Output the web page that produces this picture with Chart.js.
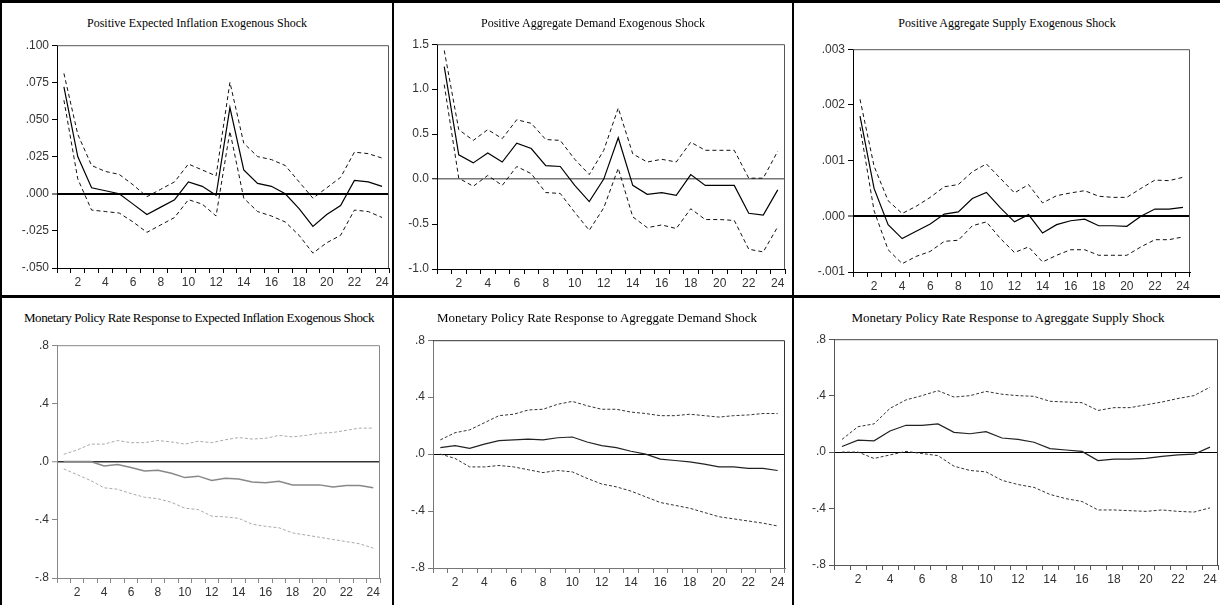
<!DOCTYPE html>
<html>
<head>
<meta charset="utf-8">
<title>Impulse responses</title>
<script src="https://cdn.jsdelivr.net/npm/chart.js@4"></script>
<style>
body { margin: 0; background: #fff; }
#page { position: relative; width: 1220px; height: 605px; overflow: hidden; background: #fff; }
.rule { position: absolute; background: #000; }
.ttl { position: absolute; font-family: "Liberation Serif", "Times New Roman", serif; font-size: 12px; line-height: 14px; color: #000; white-space: nowrap; transform: translateX(-50%); }
canvas { position: absolute; }
</style>
</head>
<body>
<div id="page">
    <div class="rule" style="left:0;top:0;width:1220px;height:3px"></div>
    <div class="rule" style="left:0;top:295px;width:1220px;height:3px"></div>
    <div class="rule" style="left:0;top:0;width:2px;height:605px"></div>
    <div class="rule" style="left:392px;top:0;width:2px;height:605px"></div>
    <div class="rule" style="left:792px;top:0;width:2px;height:605px"></div>
</div>

<script>
// periods after the shock
var periods = ["1","2","3","4","5","6","7","8","9","10","11","12","13","14","15","16","17","18","19","20","21","22","23","24"];

// expected inflation shock
var infResp  = [0.072, 0.025, 0.004, 0.002, 0.000, -0.007, -0.014, -0.009, -0.004, 0.008, 0.005, -0.001, 0.058, 0.016, 0.007, 0.005, 0.000, -0.010, -0.022, -0.014, -0.008, 0.009, 0.008, 0.005];
var infUpper = [0.081, 0.040, 0.019, 0.015, 0.013, 0.006, -0.002, 0.003, 0.008, 0.020, 0.016, 0.012, 0.075, 0.034, 0.025, 0.023, 0.019, 0.008, -0.003, 0.004, 0.011, 0.028, 0.027, 0.024];
var infLower = [0.063, 0.010, -0.011, -0.012, -0.013, -0.019, -0.026, -0.021, -0.016, -0.004, -0.007, -0.015, 0.042, -0.003, -0.012, -0.015, -0.019, -0.028, -0.040, -0.033, -0.028, -0.011, -0.012, -0.016];

// aggregate demand shock
var adResp  = [1.25, 0.27, 0.18, 0.29, 0.19, 0.40, 0.34, 0.15, 0.14, -0.07, -0.25, 0.00, 0.46, -0.07, -0.17, -0.15, -0.18, 0.05, -0.07, -0.07, -0.07, -0.38, -0.40, -0.12];
var adUpper = [1.43, 0.55, 0.43, 0.55, 0.45, 0.66, 0.62, 0.44, 0.43, 0.22, 0.05, 0.32, 0.79, 0.28, 0.19, 0.22, 0.19, 0.41, 0.32, 0.32, 0.32, 0.01, 0.01, 0.31];
var adLower = [1.05, 0.01, -0.08, 0.04, -0.07, 0.14, 0.06, -0.15, -0.16, -0.37, -0.57, -0.32, 0.12, -0.42, -0.54, -0.51, -0.55, -0.33, -0.45, -0.45, -0.46, -0.78, -0.81, -0.53];

// aggregate supply shock
var asResp  = [0.0018, 0.0005, -0.00015, -0.0004, -0.00027, -0.00014, 0.00004, 0.00008, 0.00032, 0.00043, 0.00015, -0.0001, 0.00003, -0.0003, -0.00015, -0.00008, -0.00005, -0.00017, -0.00017, -0.00018, 0.0, 0.00013, 0.00013, 0.00016];
var asUpper = [0.0021, 0.0009, 0.00028, 0.00005, 0.00018, 0.00034, 0.00053, 0.00057, 0.0008, 0.00094, 0.00068, 0.00042, 0.00057, 0.00024, 0.00037, 0.00042, 0.00046, 0.00036, 0.00034, 0.00034, 0.0005, 0.00065, 0.00064, 0.0007];
var asLower = [0.0016, 0.0001, -0.0006, -0.00085, -0.00072, -0.00063, -0.00045, -0.00043, -0.00017, -0.0001, -0.0004, -0.00065, -0.00055, -0.00082, -0.0007, -0.0006, -0.0006, -0.0007, -0.0007, -0.0007, -0.00055, -0.00042, -0.00042, -0.00037];

// policy rate response to expected inflation shock
var mpInfResp  = [0.0, 0.0, 0.0, -0.03, -0.02, -0.04, -0.065, -0.06, -0.08, -0.11, -0.10, -0.13, -0.115, -0.12, -0.14, -0.145, -0.135, -0.16, -0.16, -0.16, -0.175, -0.165, -0.165, -0.18];
var mpInfUpper = [0.05, 0.08, 0.12, 0.12, 0.145, 0.13, 0.13, 0.145, 0.135, 0.12, 0.14, 0.13, 0.15, 0.165, 0.155, 0.16, 0.18, 0.17, 0.18, 0.195, 0.20, 0.215, 0.23, 0.23];
var mpInfLower = [-0.05, -0.09, -0.13, -0.18, -0.19, -0.22, -0.245, -0.255, -0.28, -0.32, -0.33, -0.375, -0.38, -0.39, -0.43, -0.445, -0.455, -0.49, -0.505, -0.52, -0.535, -0.55, -0.565, -0.595];

// policy rate response to demand shock
var mpAdResp  = [0.045, 0.06, 0.04, 0.07, 0.095, 0.10, 0.105, 0.10, 0.115, 0.12, 0.085, 0.06, 0.045, 0.02, 0.0, -0.035, -0.045, -0.055, -0.07, -0.09, -0.09, -0.10, -0.10, -0.115];
var mpAdUpper = [0.10, 0.15, 0.17, 0.22, 0.27, 0.28, 0.31, 0.315, 0.35, 0.37, 0.34, 0.315, 0.315, 0.295, 0.285, 0.27, 0.27, 0.28, 0.27, 0.26, 0.27, 0.275, 0.285, 0.285];
var mpAdLower = [0.0, -0.03, -0.09, -0.09, -0.08, -0.09, -0.11, -0.13, -0.115, -0.125, -0.17, -0.21, -0.23, -0.26, -0.30, -0.34, -0.36, -0.38, -0.41, -0.44, -0.455, -0.47, -0.485, -0.505];

// policy rate response to supply shock
var mpAsResp  = [0.04, 0.085, 0.08, 0.15, 0.19, 0.19, 0.20, 0.14, 0.13, 0.145, 0.10, 0.09, 0.07, 0.025, 0.015, 0.005, -0.06, -0.05, -0.05, -0.045, -0.03, -0.02, -0.015, 0.035];
var mpAsUpper = [0.09, 0.18, 0.20, 0.31, 0.37, 0.40, 0.435, 0.39, 0.40, 0.43, 0.41, 0.40, 0.395, 0.36, 0.355, 0.35, 0.295, 0.315, 0.315, 0.335, 0.355, 0.38, 0.40, 0.46];
var mpAsLower = [0.0, 0.0, -0.045, -0.02, 0.005, -0.01, -0.025, -0.10, -0.13, -0.14, -0.20, -0.23, -0.25, -0.30, -0.33, -0.35, -0.41, -0.41, -0.415, -0.42, -0.41, -0.42, -0.425, -0.395];

var tickFont = { family: '"Liberation Sans Narrow", "Liberation Sans", Arial, sans-serif', size: 12 };

// strips the leading zero the way the original software prints it
function fmt(dec, keepZero) {
    return function (v) {
        var s = Number(v).toFixed(dec);
        if (Math.abs(Number(s)) === 0) s = Number(0).toFixed(dec);
        if (!keepZero) s = s.replace(/^(-?)0\./, "$1.");
        return s;
    };
}

// draws the top and right edges of the plot box
var frame = {
    id: "frame",
    afterDraw: function (chart, args, opts) {
        var a = chart.chartArea, c = chart.ctx;
        c.save();
        c.strokeStyle = opts.color;
        c.lineWidth = 1;
        c.beginPath();
        c.moveTo(a.left, a.top + 0.5);
        c.lineTo(a.right - 0.5, a.top + 0.5);
        c.lineTo(a.right - 0.5, a.bottom);
        c.stroke();
        c.restore();
    }
};

function makePanel(p) {
    var yw = 45, xh = 26, padTop = 8, padRight = 4;
    var cv = document.createElement("canvas");
    var left = p.plot[0] - yw, top = p.plot[1] - padTop;
    var w = p.plot[2] + padRight - left, h = p.plot[3] + xh - top;
    cv.width = w; cv.height = h;
    cv.style.left = left + "px"; cv.style.top = top + "px";
    document.getElementById("page").appendChild(cv);

    var t = document.createElement("div");
    t.className = "ttl";
    t.textContent = p.title;
    t.style.left = p.titleX + "px";
    t.style.top = p.titleY + "px";
    if (p.titleSize) t.style.fontSize = p.titleSize;
    if (p.titleSpacing) t.style.letterSpacing = p.titleSpacing;
    document.getElementById("page").appendChild(t);

    var isZero = function (c) { return Math.abs(c.tick.value) < p.step / 100; };

    new Chart(cv, {
        type: "line",
        data: {
            labels: periods,
            datasets: [
                { data: p.resp, borderColor: p.lineColor, borderWidth: p.lineWidth },
                { data: p.upper, borderColor: p.bandColor, borderWidth: 1, borderDash: p.dash },
                { data: p.lower, borderColor: p.bandColor, borderWidth: 1, borderDash: p.dash }
            ]
        },
        options: {
            responsive: false,
            animation: false,
            layout: { padding: { top: padTop, right: padRight, left: 0, bottom: 0 } },
            elements: { point: { radius: 0 }, line: { tension: 0 } },
            plugins: {
                legend: { display: false },
                tooltip: { enabled: false },
                frame: { color: p.frameColor }
            },
            scales: {
                x: {
                    offset: true,
                    grid: { offset: true, drawOnChartArea: false, tickLength: 5, color: p.axisColor },
                    border: { color: p.axisColor },
                    ticks: {
                        autoSkip: false, maxRotation: 0, padding: 2, color: "#333", font: tickFont,
                        callback: function (v, i) { return (i + 1) % 2 === 0 ? periods[i] : ""; }
                    },
                    afterFit: function (s) { s.height = xh; }
                },
                y: {
                    min: p.min, max: p.max,
                    grid: {
                        tickLength: 5,
                        tickColor: p.axisColor,
                        tickWidth: 1,
                        color: function (c) { return isZero(c) ? p.zeroColor : "rgba(0,0,0,0)"; },
                        lineWidth: function (c) { return isZero(c) ? p.zeroWidth : 1; }
                    },
                    border: { color: p.axisColor },
                    ticks: { stepSize: p.step, padding: 3, color: "#333", font: tickFont, callback: p.fmt },
                    afterFit: function (s) { s.width = yw; }
                }
            }
        },
        plugins: [frame]
    });
}

var panels = [
    { title: "Positive Expected Inflation Exogenous Shock", titleX: 197, titleY: 16, plot: [57, 43, 389, 268],
      resp: infResp, upper: infUpper, lower: infLower, min: -0.05, max: 0.1, step: 0.025, fmt: fmt(3, false),
      lineColor: "#000", lineWidth: 1.2, bandColor: "#111", dash: [4, 3], axisColor: "#000", frameColor: "#555", zeroColor: "#000", zeroWidth: 2 },
    { title: "Positive Aggregate Demand Exogenous Shock", titleX: 593, titleY: 16, plot: [437, 42, 785, 269],
      resp: adResp, upper: adUpper, lower: adLower, min: -1, max: 1.5, step: 0.5, fmt: fmt(1, true),
      lineColor: "#000", lineWidth: 1.2, bandColor: "#111", dash: [4, 3], axisColor: "#000", frameColor: "#555", zeroColor: "#777", zeroWidth: 1.5 },
    { title: "Positive Aggregate Supply Exogenous Shock", titleX: 1007, titleY: 16, plot: [853, 47, 1190, 272],
      resp: asResp, upper: asUpper, lower: asLower, min: -0.001, max: 0.003, step: 0.001, fmt: fmt(3, false),
      lineColor: "#000", lineWidth: 1.2, bandColor: "#111", dash: [4, 3], axisColor: "#000", frameColor: "#555", zeroColor: "#000", zeroWidth: 2 },
    { title: "Monetary Policy Rate Response to Expected Inflation Exogenous Shock", titleX: 199, titleY: 311, titleSize: "13px", titleSpacing: "-0.4px", plot: [57, 343, 380, 578],
      resp: mpInfResp, upper: mpInfUpper, lower: mpInfLower, min: -0.8, max: 0.8, step: 0.4, fmt: fmt(1, false),
      lineColor: "#888", lineWidth: 1.5, bandColor: "#aaa", dash: [3, 2], axisColor: "#888", frameColor: "#888", zeroColor: "#333", zeroWidth: 1.5 },
    { title: "Monetary Policy Rate Response to Agreggate Demand Shock", titleX: 597, titleY: 311, titleSize: "13px", plot: [433, 338, 785, 568],
      resp: mpAdResp, upper: mpAdUpper, lower: mpAdLower, min: -0.8, max: 0.8, step: 0.4, fmt: fmt(1, false),
      lineColor: "#222", lineWidth: 1.2, bandColor: "#333", dash: [3, 2], axisColor: "#777", frameColor: "#333", zeroColor: "#000", zeroWidth: 1 },
    { title: "Monetary Policy Rate Response to Agreggate Supply Shock", titleX: 1008, titleY: 311, titleSize: "13px", plot: [834, 337, 1218, 565],
      resp: mpAsResp, upper: mpAsUpper, lower: mpAsLower, min: -0.8, max: 0.8, step: 0.4, fmt: fmt(1, false),
      lineColor: "#222", lineWidth: 1.2, bandColor: "#333", dash: [3, 2], axisColor: "#555", frameColor: "#444", zeroColor: "#000", zeroWidth: 1 }
];

panels.forEach(makePanel);
</script>
</body>
</html>
